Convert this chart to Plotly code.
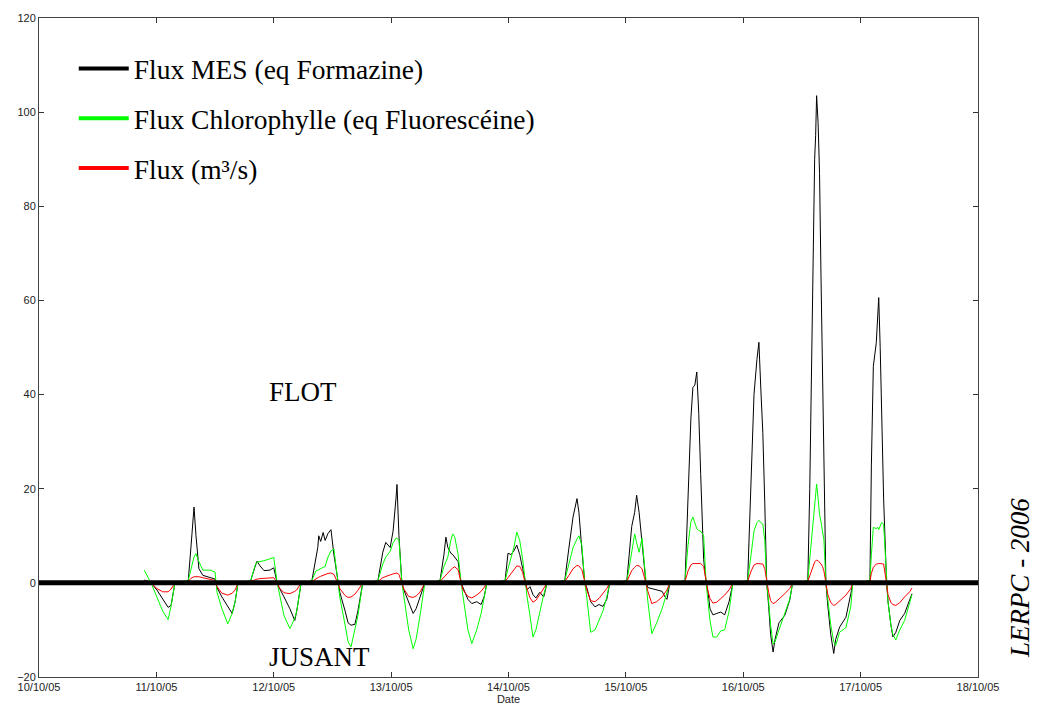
import pandas as pd
import plotly.graph_objects as go

# hours since 10/10/05 00:00
hours = [
    21.5, 22.9, 24.1, 25.3, 26.4, 27.0, 27.8, 29.0,
    30.5, 31.1, 31.7, 32.1, 32.7, 33.5, 35.0, 36.0, 36.2,
    36.4, 37.4, 38.6, 39.5, 40.1, 40.7, 42.1,
    43.3, 44.2, 44.6, 45.2, 46.0, 47.2, 48.0, 48.7,
    49.1, 50.1, 51.3, 52.3, 52.7, 53.6, 54.6,
    55.8, 56.6, 57.0, 57.2, 57.6, 58.1, 58.5, 59.1, 59.7, 60.3, 61.1,
    61.5, 62.6, 63.2, 63.8, 64.6, 65.2, 66.2, 67.7,
    69.3, 70.3, 70.9, 71.8, 72.4, 73.0, 73.2, 73.6, 74.2,
    74.6, 75.6, 76.5, 77.1, 77.9, 78.9, 80.3,
    82.0, 82.8, 83.2, 83.6, 84.2, 84.6, 85.0, 85.7, 86.3,
    86.7, 87.7, 88.5, 89.5, 90.4, 91.0, 91.6, 93.2,
    95.3, 95.9, 96.5, 97.1, 97.7, 98.3, 98.9, 99.4,
    99.8, 100.4, 101.0, 101.6, 102.4, 103.2, 103.9, 105.5,
    107.5, 108.3, 109.2, 110.0, 110.4, 111.0, 111.6,
    112.0, 112.8, 113.7, 114.5, 115.3, 116.1, 116.7, 118.4,
    120.2, 120.8, 121.2, 121.8, 122.2, 122.7, 123.3, 124.1,
    124.5, 125.3, 126.3, 127.4, 128.0, 128.4, 129.0, 130.6,
    132.1, 132.7, 133.3, 133.7, 134.1, 134.5, 134.9, 135.3, 135.9, 136.4,
    136.8, 137.2, 137.8, 138.6, 139.4, 140.2, 141.1, 141.9, 143.3,
    144.9, 145.6, 146.2, 146.8, 147.2, 147.6, 148.0, 148.4, 148.8,
    149.2, 149.6, 150.1, 150.5, 151.3, 152.5, 153.5, 154.1, 155.6,
    157.2, 157.6, 157.9, 158.1, 158.3, 158.6, 158.8, 159.0, 159.3, 159.6, 159.9, 160.2, 160.5, 160.9,
    161.3, 161.9, 162.5, 162.9, 163.7, 165.0, 166.0, 166.4, 167.8,
    169.9, 170.2, 170.6, 171.2, 171.5, 171.7, 172.0, 172.3, 172.7, 173.3,
    173.6, 174.2, 174.6, 175.2, 176.0, 177.0, 178.1, 178.5,
]

flux_mes = [
    0.6, 0, -1.5, -3.5, -5.2, -4.8, 0, 0.2,
    0.2, 8, 16.1, 10, 3, 1.6, 1.2, 0.8, 0,
    -1, -3, -5, -6.5, -4, 0, 0,
    0.5, 3.5, 4.6, 3.6, 2.6, 2.7, 3.2, 0,
    -1, -3, -5.5, -8, -6, 0, 0,
    0.5, 5, 7.5, 10, 8.8, 10.7, 9, 10.5, 11.3, 6, 0,
    -2, -6, -8.5, -9, -8.8, -6, 0, 0,
    0.5, 6.5, 8.6, 7.5, 11, 18, 20.9, 10, 0,
    -1.5, -4, -6.5, -5.5, -3, 0, 0,
    0.5, 6, 9.7, 7.5, 6.3, 6.0, 5.5, 4.5, 0,
    -1, -3.5, -4.4, -4, -4.6, -3, 0, 0,
    0.5, 6.3, 6, 6.8, 8.0, 6, 3, 0,
    -1.5, -0.8, -2.5, -3.2, -2, -3, 0, 0,
    0.5, 7, 14, 17.9, 15, 7, 0,
    -1, -4, -5.1, -4.6, -5, -3.5, 0, 0,
    0.5, 7, 12, 15, 18.6, 15, 8, 0,
    -1, -1.2, -1.5, -1.8, -3, -3.5, 0, 0,
    0.5, 17, 35, 41.5, 42, 44.8, 36, 23, 5, 0,
    -2, -5.5, -6.8, -6.5, -6.2, -6.8, -4, 0, 0,
    0.5, 20, 40, 47.5, 51.1, 41, 32, 17, 0,
    -5, -11, -14.7, -12, -8.5, -6.9, -3.7, 0, 0,
    0.5, 20, 42, 62, 77, 90, 95, 103.5, 97.8, 87, 65, 45, 22, 0,
    -5, -11, -15, -12, -9.4, -7.3, -2.3, 0, 0,
    0.5, 25, 46, 51, 56, 60.6, 50, 35, 18, 0,
    -4, -9, -11.5, -10.5, -8, -6.5, -3.5, -2.3,
]

flux_chl = [
    2.7, 0, -3, -6, -7.8, -5, 0, 0.2,
    0.5, 3, 5.5, 6.2, 4.5, 2.7, 2.7, 2.3, 0,
    -2, -5.5, -8.7, -6.5, -4, 0, 0,
    0.5, 3.8, 4.4, 4.5, 4.7, 5.1, 5.4, 0,
    -2, -7, -9.7, -7.5, -6, 0, 0,
    0.5, 2.5, 2.7, 2.8, 3.0, 3.2, 3.5, 5.5, 6.8, 7.2, 0,
    -3, -9, -12.5, -13.6, -10, -7, 0, 0,
    0.5, 4, 5.5, 6.7, 8.5, 9.5, 9.4, 9.2, 0,
    -3, -10, -14, -12, -7, 0, 0,
    0.5, 3.5, 4.5, 5.5, 9.0, 10.4, 9.8, 6, 0,
    -3, -10, -12.9, -10, -6.5, -3.5, 0, 0,
    0.5, 3, 5, 7.5, 10.8, 9, 5, 0,
    -3, -7, -11.5, -10, -6, -2.5, 0, 0,
    0.5, 4, 7.5, 9.3, 10, 8, 0,
    -3, -10.5, -10, -8, -6, -3, 0, 0,
    0.5, 4, 6.5, 10.4, 8.5, 6.5, 9.5, 0,
    -4, -10.8, -8.5, -5.5, -3.5, -2.5, 0, 0,
    0.5, 8, 13, 14, 12.5, 11.5, 11.1, 11, 10, 0,
    -4, -8, -11.5, -11.5, -10.2, -10, -6, 0, 0,
    0.5, 6, 11, 12.8, 13.3, 12.8, 12.5, 9, 0,
    -4, -9, -13, -12.5, -10, -6.5, -3.5, 0, 0,
    0.5, 5, 9, 11, 13, 17, 20, 21, 18, 14.5, 13, 11, 9, 0,
    -4, -9, -12.5, -13.3, -10.5, -9.5, -5, 0, 0,
    0.5, 6, 11.8, 11.5, 11.8, 11.3, 12, 12.8, 12.5, 0,
    -4, -9, -11, -12.1, -10, -8, -4, -2.5,
]

flux_q = [
    0, 0, -1.2, -1.9, -1.9, -1.3, 0, 0,
    0.3, 1.0, 1.3, 1.3, 1.3, 1.1, 0.8, 0.5, 0,
    -0.8, -2.2, -2.6, -2.2, -1.5, 0, 0,
    0.3, 0.7, 0.8, 0.9, 1.0, 1.1, 1.1, 0,
    -1, -2.1, -2.3, -1.8, -1.5, 0, 0,
    0.3, 0.9, 1.1, 1.2, 1.4, 1.6, 1.8, 2.0, 2.1, 1.8, 0,
    -1.2, -2.7, -3.1, -3.0, -2.4, -1.6, 0, 0,
    0.3, 1.1, 1.4, 1.7, 1.9, 2.1, 2.1, 1.8, 0,
    -1.3, -2.9, -3.1, -2.8, -2, 0, 0,
    0.3, 1.2, 1.7, 2.1, 2.8, 3.2, 3.4, 2.8, 0,
    -1.5, -2.9, -3.2, -2.6, -1.8, -1, 0, 0,
    0.3, 1.1, 2.0, 2.8, 3.6, 3.5, 2.2, 0,
    -1.5, -3.2, -4.1, -3.7, -2.5, -1.2, 0, 0,
    0.3, 1.5, 3.0, 3.7, 3.6, 2.8, 0,
    -1.5, -3.8, -4.0, -3.3, -2.3, -1.2, 0, 0,
    0.3, 1.8, 2.6, 3.3, 3.7, 3.6, 3.0, 0,
    -1.8, -4.4, -4.0, -3.0, -2.2, -1.5, 0, 0,
    0.3, 2.5, 3.8, 4.1, 4.1, 4.1, 4.1, 4.1, 3.5, 0,
    -1.8, -3.3, -4.3, -4.1, -3.4, -2.6, -1.5, 0, 0,
    0.3, 2.5, 3.8, 4.1, 4.1, 4.1, 4.0, 3, 0,
    -2, -3.8, -4.4, -4.2, -3.5, -2.3, -1.2, 0, 0,
    0.3, 1.5, 2.5, 3.2, 3.8, 4.4, 4.7, 4.8, 4.7, 4.4, 4.0, 3.5, 2.5, 0,
    -2.5, -4.2, -4.8, -4.6, -3.8, -2.6, -1.2, 0, 0,
    0.3, 2, 3.3, 4.0, 4.1, 4.1, 4.1, 4.1, 4.0, 0,
    -2.5, -4.2, -4.6, -4.8, -4.2, -3, -1.8, -1.1,
]

assert len(hours) == len(flux_mes) == len(flux_chl) == len(flux_q)

series_names = ["Flux MES (eq Formazine)", "Flux Chlorophylle (eq Fluorescéine)", "Flux (m³/s)"]
series_colors = ["#000000", "#00ff00", "#ff0000"]
y_ticks = [-20, 0, 20, 40, 60, 80, 100, 120]

base = pd.Timestamp("2005-10-10")
times = base + pd.to_timedelta(hours, unit="h")

fig = go.Figure()
for name, vals, col in zip(series_names, [flux_mes, flux_chl, flux_q], series_colors):
    fig.add_trace(go.Scatter(x=times, y=vals, mode="lines", line=dict(color=col, width=1),
                             showlegend=False, hoverinfo="skip"))
# legend entries (thicker sample lines)
for i, (name, col) in enumerate(zip(series_names, series_colors)):
    fig.add_trace(go.Scatter(x=[None], y=[None], mode="lines", name=name,
                             line=dict(color=col, width=4), legendgroup=str(i)))

# thick zero reference line
fig.add_shape(type="line", xref="paper", x0=0, x1=1, yref="y", y0=0, y1=0,
              line=dict(color="black", width=5), layer="above")

serif = "Liberation Serif, Times New Roman, serif"
fig.add_annotation(x=base + pd.Timedelta(hours=54), y=40.5, text="FLOT", showarrow=False,
                   font=dict(family=serif, size=27, color="black"))
fig.add_annotation(x=base + pd.Timedelta(hours=57.4), y=-15.8, text="JUSANT", showarrow=False,
                   font=dict(family=serif, size=27, color="black"))
fig.add_annotation(xref="paper", yref="paper", x=1.0447, y=0.150, text="<i>LERPC - 2006</i>",
                   xanchor="center", yanchor="middle",
                   textangle=-90, showarrow=False, font=dict(family=serif, size=27, color="black"))

axis_font = dict(family="Liberation Sans, Arial, sans-serif", size=11, color="#222222")
fig.update_layout(
    width=1040, height=713,
    margin=dict(l=39, r=62, t=18, b=36),
    paper_bgcolor="white", plot_bgcolor="white",
    showlegend=True,
    legend=dict(x=0.037, y=0.9605, xanchor="left", yanchor="top", bgcolor="rgba(0,0,0,0)",
                font=dict(family=serif, size=27.5, color="black"), tracegroupgap=11,
                traceorder="grouped", itemwidth=50),
    xaxis=dict(type="date", range=[base, base + pd.Timedelta(days=8)], dtick=86400000,
               tick0=base, tickformat="%d/%m/%y", ticks="inside", ticklen=5, tickcolor="#333",
               showline=True, linecolor="#444", linewidth=1, mirror="ticks", showgrid=False,
               zeroline=False, tickfont=axis_font, automargin=False,
               title=dict(text="Date", font=axis_font, standoff=2)),
    yaxis=dict(range=[-20, 120], tickvals=y_ticks, ticks="inside", ticklen=5, tickcolor="#333",
               showline=True, linecolor="#444", linewidth=1, mirror="ticks", showgrid=False,
               zeroline=False, tickfont=axis_font, automargin=False),
)

fig.write_html("out.html", config={"displayModeBar": False},
               post_script="document.body.style.margin='0';document.body.style.overflow='hidden';")
